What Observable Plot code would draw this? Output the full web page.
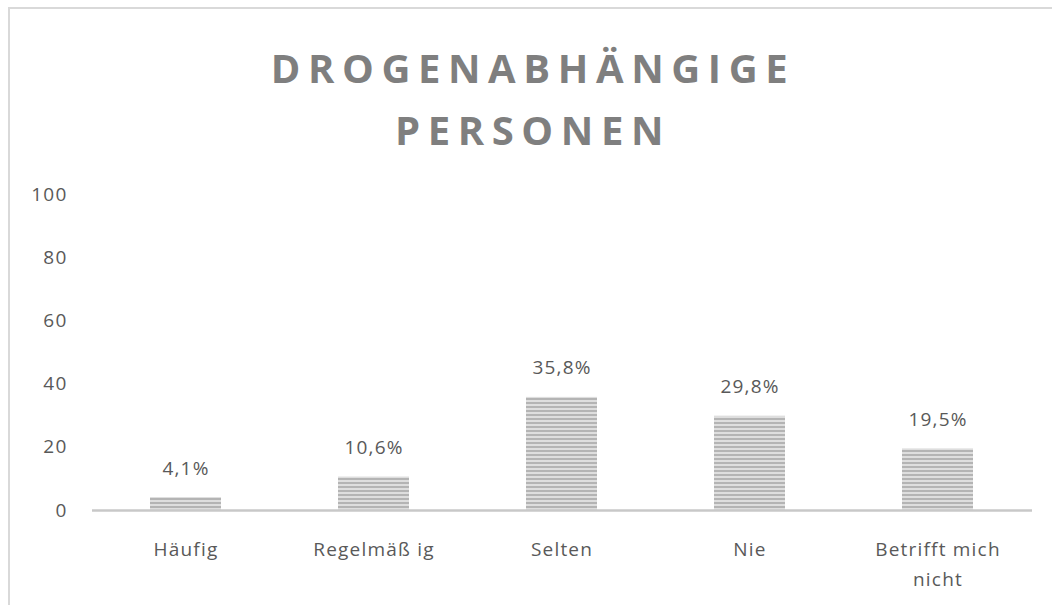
<!DOCTYPE html>
<html>
<head>
<meta charset="utf-8">
<script src="https://cdn.jsdelivr.net/npm/d3@7"></script>
<script src="https://cdn.jsdelivr.net/npm/@observablehq/plot@0.6"></script>
<style>
  html, body { margin: 0; padding: 0; background: #fff; width: 1052px; height: 605px; overflow: hidden; }
  #frame { position: absolute; left: 8px; top: 7px; width: 1100px; height: 700px; border-top: 2px solid #d9d9d9; border-left: 2px solid #d9d9d9; box-sizing: border-box; pointer-events: none; }
  #wrap { position: absolute; left: 0; top: 0; width: 1052px; }
  #title { height: 170px; box-sizing: border-box; padding-top: 37px; text-align: center; font-family: "Open Sans", sans-serif; font-weight: 700; font-size: 40px; letter-spacing: 7.6px; line-height: 62px; color: #7f7f7f; padding-left: 14px; }
  svg { display: block; }
  svg text { letter-spacing: 1.2px; }
</style>
</head>
<body>
<div id="frame"></div>
<div id="wrap">
  <div id="title">DROGENABHÄNGIGE<br>PERSONEN</div>
  <div id="chart"></div>
</div>
<script>
const categories = ["Häufig", "Regelmäßig", "Selten", "Nie", "Betrifft mich nicht"];
const axisLabels = ["Häufig", "Regelmäß ig", "Selten", "Nie", "Betrifft mich\nnicht"];
const values = [4.1, 10.6, 35.8, 29.8, 19.5];
const valueLabels = ["4,1%", "10,6%", "35,8%", "29,8%", "19,5%"];
const yTicks = [0, 20, 40, 60, 80, 100];

const data = categories.map((c, i) => ({cat: c, axisLabel: axisLabels[i], value: values[i], label: valueLabels[i]}));

const font = "'Open Sans', sans-serif";
const chart = Plot.plot({
  width: 1052,
  height: 435,
  marginTop: 24,
  marginBottom: 95,
  marginLeft: 92,
  marginRight: 20,
  style: {fontFamily: font, fontSize: "19px", color: "#595959", background: "transparent"},
  x: {domain: categories, paddingInner: 0.62, paddingOuter: 0.31, axis: null},
  y: {domain: [0, 100], axis: null},
  marks: [
    Plot.axisY({ticks: yTicks, tickSize: 0, tickPadding: 25, label: null, fill: "#595959", fontSize: 19}),
    Plot.barY(data, {x: "cat", y: "value", fill: "url(#stripes)"}),
    Plot.ruleY([0], {stroke: "#c8c8c8", strokeWidth: 2.5}),
    Plot.text(data, {x: "cat", y: "value", text: "label", dy: -23, lineAnchor: "bottom", fill: "#595959", fontSize: 19}),
    Plot.text(data, {x: "cat", y: () => 0, text: "axisLabel", dy: 24, lineAnchor: "top", lineHeight: 1.6, fill: "#595959", fontSize: 19})
  ]
});

const ns = "http://www.w3.org/2000/svg";
const defs = document.createElementNS(ns, "defs");
const pat = document.createElementNS(ns, "pattern");
pat.setAttribute("id", "stripes");
pat.setAttribute("patternUnits", "userSpaceOnUse");
pat.setAttribute("width", "6");
pat.setAttribute("height", "4");
const r1 = document.createElementNS(ns, "rect");
r1.setAttribute("width", "6"); r1.setAttribute("height", "4"); r1.setAttribute("fill", "#dedede");
const r2 = document.createElementNS(ns, "rect");
r2.setAttribute("width", "6"); r2.setAttribute("height", "2"); r2.setAttribute("fill", "#b4b4b4");
pat.appendChild(r1); pat.appendChild(r2);
defs.appendChild(pat);
chart.insertBefore(defs, chart.firstChild);

document.getElementById("chart").appendChild(chart);
</script>
</body>
</html>
